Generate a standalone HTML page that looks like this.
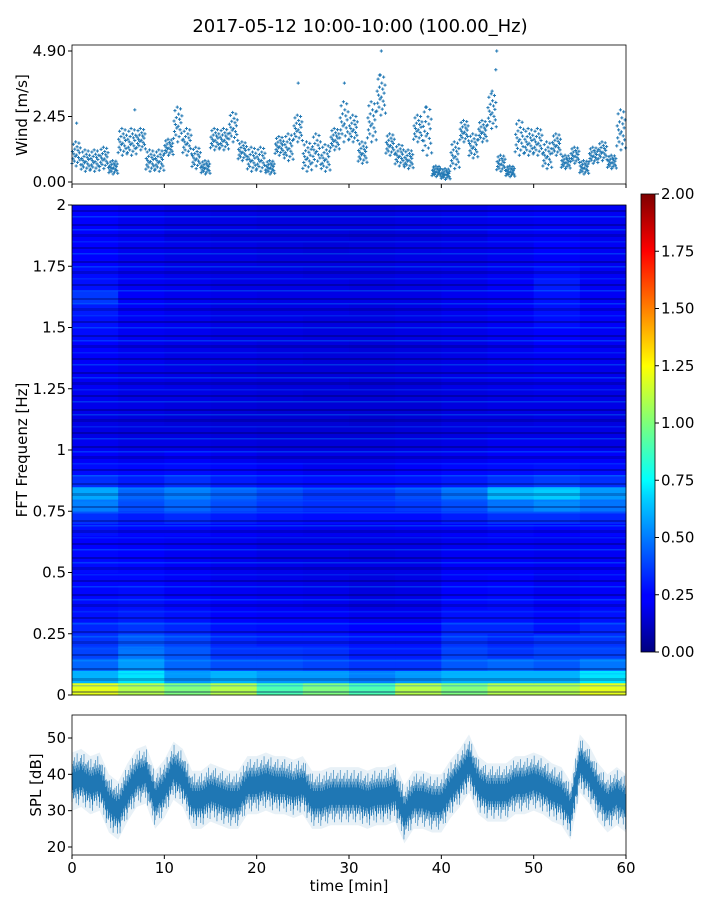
<!DOCTYPE html>
<html><head><meta charset="utf-8"><style>
body{margin:0;background:#fff}
svg{display:block;font-family:"DejaVu Sans","Liberation Sans",sans-serif}
</style></head><body>
<svg id="c" width="720" height="900" viewBox="0 0 720 900">
<defs>
<linearGradient id="jet" x1="0" y1="1" x2="0" y2="0">
<stop offset="0" stop-color="#00007f"/><stop offset="0.11" stop-color="#0000ff"/><stop offset="0.125" stop-color="#0000ff"/>
<stop offset="0.34" stop-color="#00d4ff"/><stop offset="0.375" stop-color="#00ffff"/><stop offset="0.5" stop-color="#7dff7a"/>
<stop offset="0.625" stop-color="#ffff00"/><stop offset="0.875" stop-color="#ff0000"/><stop offset="1" stop-color="#7f0000"/>
</linearGradient>
<pattern id="streaks" width="9" height="37" patternUnits="userSpaceOnUse">
<rect x="0" y="2" width="9" height="2" fill="#000050" opacity="0.35"/>
<rect x="0" y="7" width="9" height="1.5" fill="#0af" opacity="0.3"/>
<rect x="0" y="12" width="9" height="3" fill="#000050" opacity="0.25"/>
<rect x="0" y="19" width="9" height="1.5" fill="#06f" opacity="0.3"/>
<rect x="0" y="25" width="9" height="2" fill="#000050" opacity="0.35"/>
<rect x="0" y="31" width="9" height="1.5" fill="#0cf" opacity="0.25"/>
</pattern>
</defs>
<text x="360" y="32" text-anchor="middle" font-size="18">2017-05-12 10:00-10:00 (100.00_Hz)</text>
<g id="wind"></g>
<g id="spec"></g>
<g id="cbar"></g>
<g id="spl"></g>
</svg>
<script>
const windLo=[0.6,0.4,0.4,0.5,0.3,1.0,1.0,1.2,0.4,0.4,1.0,1.5,1.0,0.5,0.3,1.2,1.2,1.5,0.8,0.4,0.4,0.3,1.0,0.8,1.5,0.4,0.6,0.4,1.2,1.5,1.5,0.7,1.5,2.5,1.0,0.6,0.5,1.5,1.0,0.2,0.1,0.5,1.5,0.9,1.5,2.0,0.4,0.2,1.0,1.0,1.0,0.5,1.0,0.5,0.7,0.3,0.7,0.8,0.5,1.2];
const windHi=[1.5,1.2,1.2,1.3,0.8,2.0,2.0,2.0,1.2,1.2,1.6,2.8,2.0,1.3,0.8,2.0,2.0,2.6,1.5,1.3,1.3,0.8,1.7,1.8,2.5,1.5,1.8,1.4,2.0,3.0,2.5,1.5,3.0,4.0,1.8,1.4,1.2,2.5,2.8,0.6,0.5,1.5,2.3,1.8,2.3,3.3,1.0,0.6,2.3,2.0,2.0,1.5,1.8,1.0,1.3,0.8,1.3,1.5,1.0,2.7];
const windPeaks=[[0.5,2.2],[6.8,2.7],[24.5,3.7],[29.5,3.7],[33.5,4.9],[33.3,4.0],[46,4.9],[45.9,4.2],[38.3,2.8],[45.5,3.4]];
const windTicks=[0,2.45,4.9];
const windTickLabels=["0.00","2.45","4.90"];
const splMean=[38,39,37,38,32,30,35,39,40,33,36,41,39,33,33,35,34,33,33,37,37,38,37,37,36,37,33,33,34,34,34,34,33,34,34,35,29,33,33,32,32,36,39,43,37,35,35,35,37,37,38,37,35,34,30,43,40,35,32,34,32];
const splTicks=[20,30,40,50];
const timeTicks=[0,10,20,30,40,50,60];
const freqTicks=[0,0.25,0.5,0.75,1,1.25,1.5,1.75,2];
const freqTickLabels=["0","0.25","0.5","0.75","1","1.25","1.5","1.75","2"];
const cbarTicks=[0,0.25,0.5,0.75,1,1.25,1.5,1.75,2];
const specRows=[
[1.2,1.1,1.0,1.1,0.9,1.0,0.9,1.1,1.0,1.1,1.1,1.2],
[0.6,0.7,0.55,0.6,0.55,0.55,0.5,0.55,0.6,0.6,0.6,0.7],
[0.45,0.55,0.45,0.4,0.4,0.38,0.35,0.35,0.42,0.45,0.42,0.48],
[0.38,0.48,0.42,0.35,0.35,0.34,0.3,0.3,0.38,0.35,0.38,0.38],
[0.35,0.42,0.38,0.32,0.3,0.3,0.28,0.28,0.35,0.32,0.35,0.35],
[0.32,0.35,0.32,0.28,0.27,0.27,0.25,0.25,0.32,0.32,0.28,0.32],
[0.28,0.3,0.28,0.25,0.24,0.24,0.22,0.22,0.28,0.28,0.26,0.28],
[0.27,0.28,0.26,0.24,0.23,0.22,0.2,0.21,0.26,0.27,0.24,0.26],
[0.26,0.27,0.24,0.23,0.22,0.21,0.19,0.2,0.25,0.26,0.23,0.24],
[0.26,0.26,0.24,0.22,0.21,0.2,0.19,0.2,0.24,0.25,0.22,0.24],
[0.27,0.26,0.24,0.22,0.21,0.2,0.2,0.2,0.24,0.24,0.23,0.24],
[0.26,0.25,0.23,0.22,0.2,0.2,0.19,0.2,0.23,0.23,0.22,0.23],
[0.25,0.24,0.23,0.22,0.2,0.2,0.2,0.2,0.22,0.23,0.22,0.23],
[0.28,0.26,0.26,0.24,0.23,0.22,0.22,0.23,0.24,0.26,0.25,0.26],
[0.34,0.3,0.33,0.3,0.28,0.27,0.27,0.27,0.3,0.34,0.34,0.32],
[0.5,0.4,0.45,0.4,0.36,0.34,0.34,0.36,0.4,0.48,0.52,0.48],
[0.58,0.45,0.5,0.45,0.4,0.36,0.36,0.4,0.48,0.62,0.65,0.55],
[0.34,0.3,0.34,0.3,0.28,0.27,0.27,0.28,0.3,0.34,0.37,0.34],
[0.27,0.26,0.27,0.26,0.24,0.22,0.22,0.24,0.26,0.27,0.28,0.27],
[0.24,0.22,0.24,0.22,0.2,0.2,0.2,0.21,0.22,0.24,0.24,0.24],
[0.22,0.2,0.2,0.19,0.18,0.18,0.18,0.19,0.2,0.22,0.22,0.2],
[0.2,0.19,0.19,0.18,0.17,0.17,0.17,0.18,0.19,0.2,0.2,0.2],
[0.2,0.19,0.18,0.17,0.17,0.17,0.16,0.17,0.19,0.19,0.2,0.19],
[0.21,0.2,0.19,0.18,0.17,0.17,0.17,0.17,0.19,0.2,0.2,0.2],
[0.22,0.2,0.2,0.19,0.18,0.17,0.17,0.18,0.19,0.2,0.21,0.2],
[0.23,0.21,0.2,0.19,0.18,0.18,0.17,0.18,0.2,0.21,0.22,0.21],
[0.23,0.21,0.2,0.19,0.18,0.18,0.18,0.19,0.2,0.21,0.22,0.21],
[0.24,0.22,0.2,0.2,0.19,0.18,0.18,0.19,0.2,0.22,0.23,0.22],
[0.25,0.22,0.21,0.2,0.19,0.19,0.18,0.19,0.2,0.22,0.25,0.23],
[0.27,0.23,0.22,0.2,0.2,0.19,0.19,0.2,0.21,0.23,0.25,0.23],
[0.28,0.23,0.22,0.2,0.2,0.19,0.19,0.2,0.21,0.23,0.27,0.24],
[0.3,0.24,0.22,0.2,0.2,0.2,0.19,0.2,0.22,0.24,0.28,0.24],
[0.36,0.24,0.22,0.21,0.2,0.2,0.2,0.2,0.22,0.23,0.28,0.23],
[0.28,0.23,0.22,0.2,0.2,0.2,0.19,0.2,0.21,0.24,0.3,0.23],
[0.27,0.23,0.21,0.2,0.2,0.19,0.19,0.2,0.21,0.23,0.27,0.23],
[0.25,0.22,0.2,0.2,0.19,0.19,0.19,0.2,0.2,0.22,0.24,0.22],
[0.25,0.22,0.21,0.2,0.19,0.18,0.19,0.2,0.21,0.22,0.25,0.23],
[0.25,0.23,0.2,0.19,0.19,0.19,0.18,0.19,0.2,0.23,0.24,0.22],
[0.25,0.22,0.2,0.2,0.19,0.19,0.19,0.2,0.21,0.22,0.23,0.22],
[0.25,0.23,0.21,0.2,0.19,0.19,0.19,0.2,0.21,0.23,0.24,0.23]];
const fBin=0.05, tBin=5;

const NS="http://www.w3.org/2000/svg";
function mk(tag,attrs,parent){const e=document.createElementNS(NS,tag);for(const k in attrs)e.setAttribute(k,attrs[k]);parent.appendChild(e);return e;}
const X0=72,X1=626;
const xT=t=>X0+(X1-X0)*t/60;
function jet(v){let x=Math.max(0,Math.min(1,v/2));
 const r=Math.max(0,Math.min(1,1.5-Math.abs(4*x-3))),g=Math.max(0,Math.min(1,1.5-Math.abs(4*x-2))),b=Math.max(0,Math.min(1,1.5-Math.abs(4*x-1)));
 return `rgb(${Math.round(r*255)},${Math.round(g*255)},${Math.round(b*255)})`;}

// WIND
const W=document.getElementById('wind');
const wy=v=>182-(182-51)*v/4.9;
const frac=[0.1,0.6,0.3,0.9,0.5,0.2,0.7,0.4,1.0,0.0,0.45,0.8,0.15,0.65,0.35,0.95,0.55,0.25,0.75,0.05];
function plus(t,v){const x=xT(t),y=wy(v);
 const p=mk('path',{d:`M${x-1.6},${y}h3.2M${x},${y-1.6}v3.2`,stroke:'#1f77b4','stroke-width':1},W);
 
 }
windLo.forEach((lo,m)=>{const hi=windHi[m];for(let k=0;k<20;k++)plus(m+k/20,lo+(hi-lo)*frac[k]);});
windPeaks.forEach(p=>plus(p[0],p[1]));
mk('rect',{x:X0,y:45,width:X1-X0,height:139,fill:'none',stroke:'#000','stroke-width':0.8},W);
windTicks.forEach((v,i)=>{mk('line',{x1:X0-4,x2:X0,y1:wy(v),y2:wy(v),stroke:'#000'},W);
 const t=mk('text',{x:X0-6,y:wy(v)+5,'text-anchor':'end','font-size':15},W);t.textContent=windTickLabels[i];
 });
timeTicks.forEach(t=>mk('line',{x1:xT(t),x2:xT(t),y1:184,y2:188,stroke:'#000'},W));
const wl=mk('text',{x:0,y:0,transform:'translate(27,115) rotate(-90)','text-anchor':'middle','font-size':15},W);wl.textContent='Wind [m/s]';


// SPECTROGRAM
const S=document.getElementById('spec');
const fy=f=>695-(695-205)*f/2;
specRows.forEach((row,ri)=>row.forEach((v,ci)=>{
 const r=mk('rect',{x:xT(ci*tBin),y:fy((ri+1)*fBin),width:xT((ci+1)*tBin)-xT(ci*tBin)+0.5,height:fy(ri*fBin)-fy((ri+1)*fBin)+0.5,fill:jet(v)},S);
 }));
mk('rect',{x:X0,y:205,width:X1-X0,height:490,fill:'url(#streaks)'},S);
mk('rect',{x:X0,y:205,width:X1-X0,height:490,fill:'none',stroke:'#000','stroke-width':0.8},S);
freqTicks.forEach((f,i)=>{mk('line',{x1:X0-4,x2:X0,y1:fy(f),y2:fy(f),stroke:'#000'},S);
 const t=mk('text',{x:X0-6,y:fy(f)+5,'text-anchor':'end','font-size':15},S);t.textContent=freqTickLabels[i];
 });
const fl=mk('text',{x:0,y:0,transform:'translate(27,450) rotate(-90)','text-anchor':'middle','font-size':15},S);fl.textContent='FFT Frequenz [Hz]';


// COLORBAR
const C=document.getElementById('cbar');
const cy=v=>652-(652-194)*v/2;
mk('rect',{x:641,y:194,width:14,height:458,fill:'url(#jet)',stroke:'#000','stroke-width':0.8},C);
cbarTicks.forEach(v=>{mk('line',{x1:655,x2:659,y1:cy(v),y2:cy(v),stroke:'#000'},C);
 const t=mk('text',{x:661,y:cy(v)+5,'font-size':15},C);t.textContent=v.toFixed(2);
 });

// SPL
const P=document.getElementById('spl');
const sy=v=>847-(847-738)*(v-20)/30;
const sm=t=>{const i=Math.min(59,Math.floor(t)),f=t-i;return splMean[i]*(1-f)+splMean[i+1]*f;};
let up='',dn='';
for(let k=0;k<=600;k++){const t=k/10;up+=`${xT(t)},${sy(sm(t)+8)} `;dn=`${xT(t)},${sy(sm(t)-8)} `+dn;}
mk('polygon',{points:up+dn,fill:'#1f77b4',opacity:0.1},P);
const dev=[4,6,3,7,5,4,8,3,5,6,4,9,5,3,6];
let d='';
for(let k=0;k<1200;k++){const t=k/20,m=sm(t),a=dev[k%15],b=dev[(k*7+3)%15];d+=`M${xT(t).toFixed(2)},${sy(m+a*0.8).toFixed(1)}V${sy(m-b*0.8).toFixed(1)}`;}
const sl=mk('path',{d:d,stroke:'#1f77b4','stroke-width':0.6,fill:'none'},P);

mk('rect',{x:X0,y:715,width:X1-X0,height:140,fill:'none',stroke:'#000','stroke-width':0.8},P);
splTicks.forEach(v=>{mk('line',{x1:X0-4,x2:X0,y1:sy(v),y2:sy(v),stroke:'#000'},P);
 const t=mk('text',{x:X0-6,y:sy(v)+5,'text-anchor':'end','font-size':15},P);t.textContent=v;
 });
timeTicks.forEach(v=>{mk('line',{x1:xT(v),x2:xT(v),y1:855,y2:859,stroke:'#000'},P);
 const t=mk('text',{x:xT(v),y:873,'text-anchor':'middle','font-size':15},P);t.textContent=v;
 });
const sl2=mk('text',{x:0,y:0,transform:'translate(41,785) rotate(-90)','text-anchor':'middle','font-size':15},P);sl2.textContent='SPL [dB]';

const tl=mk('text',{x:349,y:891,'text-anchor':'middle','font-size':15},P);tl.textContent='time [min]';

</script>
</body></html>
